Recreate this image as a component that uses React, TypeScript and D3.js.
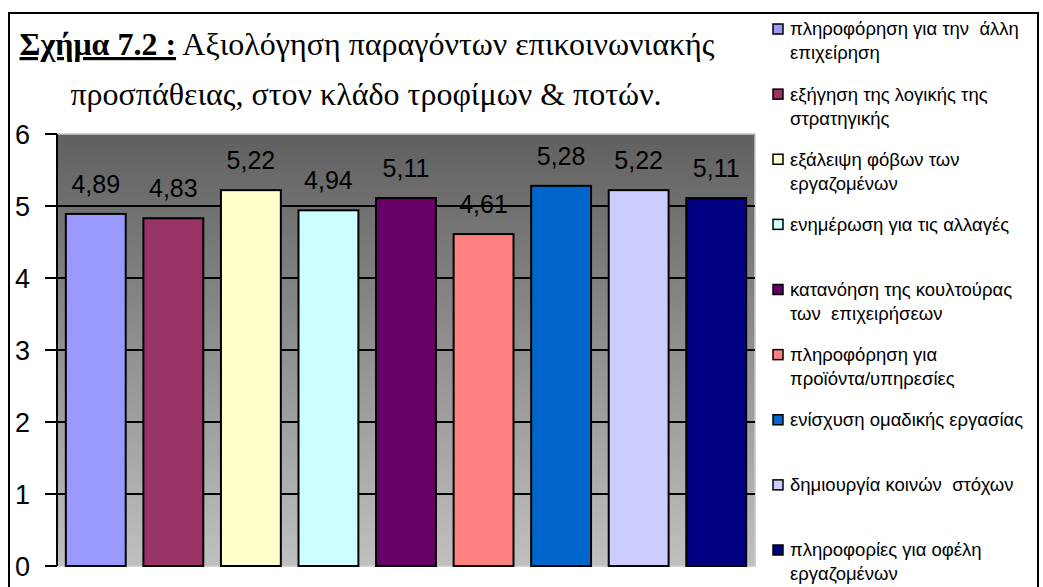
import React from "react";
import * as d3 from "d3";

const categories: string[] = [
  "πληροφόρηση για την άλλη επιχείρηση",
  "εξήγηση της λογικής της στρατηγικής",
  "εξάλειψη φόβων των εργαζομένων",
  "ενημέρωση για τις αλλαγές",
  "κατανόηση της κουλτούρας των επιχειρήσεων",
  "πληροφόρηση για προϊόντα/υπηρεσίες",
  "ενίσχυση ομαδικής εργασίας",
  "δημιουργία κοινών στόχων",
  "πληροφορίες για οφέλη εργαζομένων",
];

const legendLines: string[][] = [
  ["πληροφόρηση για την  άλλη", "επιχείρηση"],
  ["εξήγηση της λογικής της", "στρατηγικής"],
  ["εξάλειψη φόβων των", "εργαζομένων"],
  ["ενημέρωση για τις αλλαγές"],
  ["κατανόηση της κουλτούρας", "των  επιχειρήσεων"],
  ["πληροφόρηση για", "προϊόντα/υπηρεσίες"],
  ["ενίσχυση ομαδικής εργασίας"],
  ["δημιουργία κοινών  στόχων"],
  ["πληροφορίες για οφέλη", "εργαζομένων"],
];

const values: number[] = [4.89, 4.83, 5.22, 4.94, 5.11, 4.61, 5.28, 5.22, 5.11];

const colors: string[] = [
  "#9999FF", "#993366", "#FFFFCC", "#CCFFFF", "#660066",
  "#FF8080", "#0066CC", "#CCCCFF", "#000080",
];

const yTicks: number[] = [0, 1, 2, 3, 4, 5, 6];

const W = 1043;
const H = 587;
const SERIF = "'Liberation Serif', 'Times New Roman', 'DejaVu Serif', serif";
const SANS = "'Liberation Sans', Arial, sans-serif";

export default function App() {
  const plot = { left: 57, right: 755, top: 134, bottom: 566 };
  const x = d3.scaleBand<number>()
    .domain(d3.range(values.length))
    .range([plot.left, plot.right])
    .paddingInner(0.228)
    .paddingOuter(0.114);
  const y = d3.scaleLinear().domain([0, 6]).range([plot.bottom, plot.top]);
  const legendY = d3.scalePoint<number>()
    .domain(d3.range(categories.length))
    .range([29, 550]);
  const fmt = (v: number) => d3.format(".2f")(v).replace(".", ",");

  return (
    <svg
      width={W}
      height={H}
      style={{ position: "absolute", left: 0, top: 0, background: "#fff" }}
    >
      <defs>
        <linearGradient id="bg" x1="0" y1="0" x2="0" y2="1">
          <stop offset="0" stopColor="#606060" />
          <stop offset="1" stopColor="#c0c0c0" />
        </linearGradient>
      </defs>
      {/* outer frame */}
      <rect x={9} y={13} width={1029} height={600} fill="#fff" stroke="#000" strokeWidth={2} />

      {/* title */}
      <text
        x={367}
        y={55}
        textAnchor="middle"
        fontFamily={SERIF}
        fontSize={32}
        fill="#000"
      >
        <tspan fontWeight="bold" textDecoration="underline">Σχήμα 7.2 :</tspan>
        <tspan> Αξιολόγηση παραγόντων επικοινωνιακής</tspan>
      </text>
      <text
        x={366}
        y={105}
        textAnchor="middle"
        fontFamily={SERIF}
        fontSize={32}
        fill="#000"
      >
        προσπάθειας, στον κλάδο τροφίμων &amp; ποτών.
      </text>

      {/* plot area */}
      <rect
        x={plot.left}
        y={plot.top}
        width={plot.right - plot.left}
        height={plot.bottom - plot.top}
        fill="url(#bg)"
        stroke="#c8c8c8"
        strokeWidth={1.5}
      />
      {yTicks.filter((t) => t > 0 && t < 6).map((t) => (
        <line key={"g" + t} x1={plot.left} x2={plot.right} y1={y(t)} y2={y(t)} stroke="#000" strokeWidth={2} />
      ))}

      {/* bars */}
      {values.map((v, i) => (
        <rect
          key={"b" + i}
          x={x(i)}
          y={y(v)}
          width={x.bandwidth()}
          height={y(0) - y(v)}
          fill={colors[i]}
          stroke="#000"
          strokeWidth={2}
        />
      ))}

      {/* value labels */}
      {values.map((v, i) => (
        <text
          key={"l" + i}
          x={(x(i) as number) + x.bandwidth() / 2}
          y={y(v) - 21}
          textAnchor="middle"
          fontFamily={SANS}
          fontSize={25}
          fill="#000"
        >
          {fmt(v)}
        </text>
      ))}

      {/* y axis */}
      <line x1={plot.left} x2={plot.left} y1={plot.top} y2={plot.bottom} stroke="#000" strokeWidth={2} />
      {yTicks.map((t) => (
        <g key={"t" + t}>
          <line x1={45} x2={plot.left} y1={y(t)} y2={y(t)} stroke="#000" strokeWidth={2} />
          <text
            x={30}
            y={y(t)}
            dy="0.36em"
            textAnchor="end"
            fontFamily={SANS}
            fontSize={27}
            fill="#000"
          >
            {t}
          </text>
        </g>
      ))}

      {/* legend */}
      {legendLines.map((lines, i) => {
        const cy = legendY(i) as number;
        return (
          <g key={"lg" + i}>
            <rect x={773} y={cy - 5} width={10} height={10} fill={colors[i]} stroke="#000" strokeWidth={1.5} />
            {lines.map((ln, j) => (
              <text
                key={j}
                x={790}
                y={cy + j * 24}
                dy="0.35em"
                fontFamily={SANS}
                fontSize={18.5}
                fill="#000"
                style={{ whiteSpace: "pre" }}
              >
                {ln}
              </text>
            ))}
          </g>
        );
      })}
    </svg>
  );
}
